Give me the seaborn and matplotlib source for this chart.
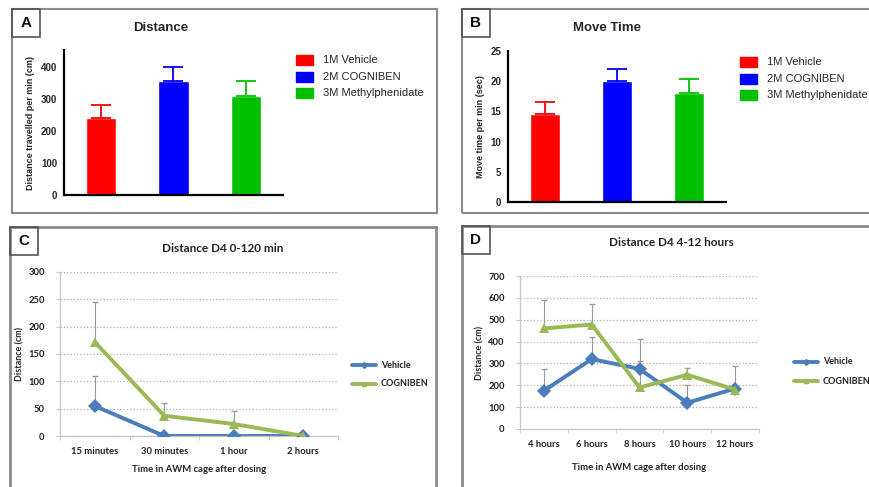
import numpy as np
import pandas as pd
import matplotlib
matplotlib.use('Agg')
import matplotlib.pyplot as plt
from matplotlib.patches import Rectangle
import seaborn as sns

sns.set_style('white')
plt.rcParams['font.family'] = ['Liberation Sans', 'DejaVu Sans']

# ---- 数据 ----
groups = ['1M Vehicle', '2M COGNIBEN', '3M Methylphenidate']
bar_colors = ['#ff0000', '#0000ff', '#00c000']
dist_mean = [240, 355, 310]
dist_err = [40, 45, 47]
move_mean = [14.5, 20.0, 18.1]
move_err = [2.0, 2.0, 2.2]

c_times = ['15 minutes', '30 minutes', '1 hour', '2 hours']
c_vehicle = [55, 0, 0, 0]
c_vehicle_err = [55, 0, 0, 0]
c_cogniben = [172, 37, 22, 0]
c_cogniben_err = [74, 23, 24, 0]

d_times = ['4 hours', '6 hours', '8 hours', '10 hours', '12 hours']
d_vehicle = [175, 320, 275, 120, 185]
d_vehicle_err = [100, 100, 35, 80, 105]
d_cogniben = [460, 478, 190, 248, 180]
d_cogniben_err = [130, 92, 220, 30, 10]

W, H = 870, 487
fig = plt.figure(figsize=(W / 100, H / 100), dpi=100)


def px_axes(x0, y0, x1, y1):
    # 像素坐标(左上为原点) -> 图坐标
    return fig.add_axes([x0 / W, 1 - y1 / H, (x1 - x0) / W, (y1 - y0) / H])


def frame(x0, y0, x1, y1, label, lw=1.5):
    fig.patches.append(Rectangle((x0 / W, 1 - y1 / H), (x1 - x0) / W, (y1 - y0) / H,
                                 transform=fig.transFigure, fill=False,
                                 edgecolor='#8a8a8a', lw=lw))
    fig.patches.append(Rectangle((x0 / W, 1 - (y0 + 28) / H), 28 / W, 28 / H,
                                 transform=fig.transFigure, fill=False,
                                 edgecolor='#555555', lw=1.2))
    fig.text((x0 + 14) / W, 1 - (y0 + 14) / H, label, ha='center', va='center',
             fontsize=11, fontweight='bold', color='#111111')


frame(12, 9, 437, 213, 'A')
frame(462, 9, 872, 213, 'B')
frame(10, 227, 436, 490, 'C', lw=2)
frame(462, 226, 872, 490, 'D', lw=2)


def bar_panel(ax, means, errs, ylim, ticks, ylabel, title, tx, legend_xy):
    df = pd.DataFrame({'group': groups, 'value': means})
    sns.barplot(data=df, x='group', y='value', hue='group', palette=bar_colors,
                width=0.42, ax=ax, legend=False, saturation=1)
    for i in range(len(groups)):
        ax.errorbar(i, means[i], yerr=[[0], [errs[i]]], color=bar_colors[i],
                    capsize=7, capthick=1.3, elinewidth=1.3)
    ax.set_xlim(-0.51, 2.51)
    ax.set_ylim(*ylim)
    ax.set_yticks(ticks)
    ax.set_xticks([])
    ax.set_xlabel('')
    ax.set_ylabel(ylabel, fontsize=6.5, fontweight='bold', labelpad=4)
    for s in ['top', 'right']:
        ax.spines[s].set_visible(False)
    for s in ['left', 'bottom']:
        ax.spines[s].set_linewidth(1.6)
        ax.spines[s].set_color('black')
    ax.tick_params(axis='y', direction='out', length=4, width=1.4, labelsize=7, pad=1)
    for t in ax.get_yticklabels():
        t.set_fontweight('bold')
    fig.text(tx / W, 1 - 28 / H, title, ha='center', va='center',
             fontsize=9.5, fontweight='bold')
    lx, ly = legend_xy
    for i, g in enumerate(groups):
        yy = ly + i * 16.7
        fig.patches.append(Rectangle((lx / W, 1 - (yy + 5) / H), 17 / W, 10 / H,
                                     transform=fig.transFigure, color=bar_colors[i]))
        fig.text((lx + 27) / W, 1 - yy / H, g, va='center', fontsize=8)


axA = px_axes(64, 50, 283, 195)
bar_panel(axA, dist_mean, dist_err, (0, 453), [0, 100, 200, 300, 400],
          'Distance travelled per min (cm)', 'Distance', 161, (296, 60))

axB = px_axes(508, 51, 726, 202)
bar_panel(axB, move_mean, move_err, (0, 25), [0, 5, 10, 15, 20, 25],
          'Move time per min (sec)', 'Move Time', 607, (740, 62))

blue = '#4a7ebb'
green = '#98b954'
cal = ['Lato', 'DejaVu Sans']


def line_panel(ax, cats, veh, veh_err, cog, cog_err, ylim, ticks, title, tx, ty, xl_y, leg_xy):
    df = pd.DataFrame({'x': list(range(len(cats))) * 2,
                       'y': veh + cog,
                       'series': ['Vehicle'] * len(cats) + ['COGNIBEN'] * len(cats)})
    x = np.arange(len(cats))
    ax.errorbar(x, veh, yerr=[np.zeros(len(cats)), veh_err], fmt='none',
                ecolor='#9a9a9a', elinewidth=0.8, capsize=2, zorder=1)
    ax.errorbar(x, cog, yerr=[np.zeros(len(cats)), cog_err], fmt='none',
                ecolor='#9a9a9a', elinewidth=0.8, capsize=2, zorder=1)
    sns.lineplot(data=df, x='x', y='y', hue='series', style='series',
                 palette={'Vehicle': blue, 'COGNIBEN': green},
                 markers={'Vehicle': 'D', 'COGNIBEN': '^'}, dashes=False,
                 markersize=7, markeredgewidth=0, linewidth=2.8, ax=ax, zorder=3)
    ax.legend_.remove()
    ax.set_xlim(-0.5, len(cats) - 0.5)
    ax.set_ylim(*ylim)
    ax.set_yticks(ticks)
    ax.set_xticks(x)
    ax.set_xticklabels(cats)
    ax.set_xticks(np.arange(len(cats) + 1) - 0.5, minor=True)
    ax.set_xlabel('')
    ax.set_ylabel('Distance (cm)', fontsize=6.5, fontweight='bold', family=cal, labelpad=3)
    ax.grid(axis='y', linestyle=':', color='#b0b0b0', lw=0.9)
    for s in ['top', 'right']:
        ax.spines[s].set_visible(False)
    for s in ['left', 'bottom']:
        ax.spines[s].set_color('#c8c8c8')
        ax.spines[s].set_linewidth(1)
    ax.tick_params(axis='x', which='major', length=0, pad=8)
    ax.tick_params(axis='x', which='minor', length=3, color='#c8c8c8', bottom=True)
    ax.tick_params(axis='y', length=3, color='#c8c8c8', left=True, pad=8)
    for t in ax.get_xticklabels() + ax.get_yticklabels():
        t.set_fontsize(6.8)
        t.set_fontweight('bold')
        t.set_family(cal)
        t.set_color('#222222')
    fig.text(tx / W, 1 - ty / H, title, ha='center', va='center', fontsize=8.5,
             fontweight='bold', family=cal, color='#222222')
    fig.text(ax.get_position().x0 + ax.get_position().width / 2, 1 - xl_y / H,
             'Time in AWM cage after dosing', ha='center', va='center',
             fontsize=6.8, fontweight='bold', family=cal, color='#222222')
    lx, ly = leg_xy
    for i, (name, col, mk) in enumerate([('Vehicle', blue, 'D'), ('COGNIBEN', green, '^')]):
        yy = 1 - (ly + i * 19) / H
        fig.lines.append(plt.Line2D([lx / W, (lx + 24) / W], [yy, yy], color=col, lw=2.8,
                                    transform=fig.transFigure))
        fig.lines.append(plt.Line2D([(lx + 12) / W], [yy], color=col, marker=mk,
                                    markersize=3, transform=fig.transFigure))
        fig.text((lx + 29) / W, yy, name, va='center', fontsize=6.5, fontweight='bold',
                 family=cal, color='#222222')


axC = px_axes(60, 272, 338, 436)
line_panel(axC, c_times, c_vehicle, c_vehicle_err, c_cogniben, c_cogniben_err,
           (0, 300), [0, 50, 100, 150, 200, 250, 300],
           'Distance D4 0-120 min', 223, 248, 469, (352, 365))

axD = px_axes(520, 276, 759, 429)
line_panel(axD, d_times, d_vehicle, d_vehicle_err, d_cogniben, d_cogniben_err,
           (0, 700), [0, 100, 200, 300, 400, 500, 600, 700],
           'Distance D4 4-12 hours', 671, 243, 467, (794, 362))

fig.savefig('out.png', dpi=100)
